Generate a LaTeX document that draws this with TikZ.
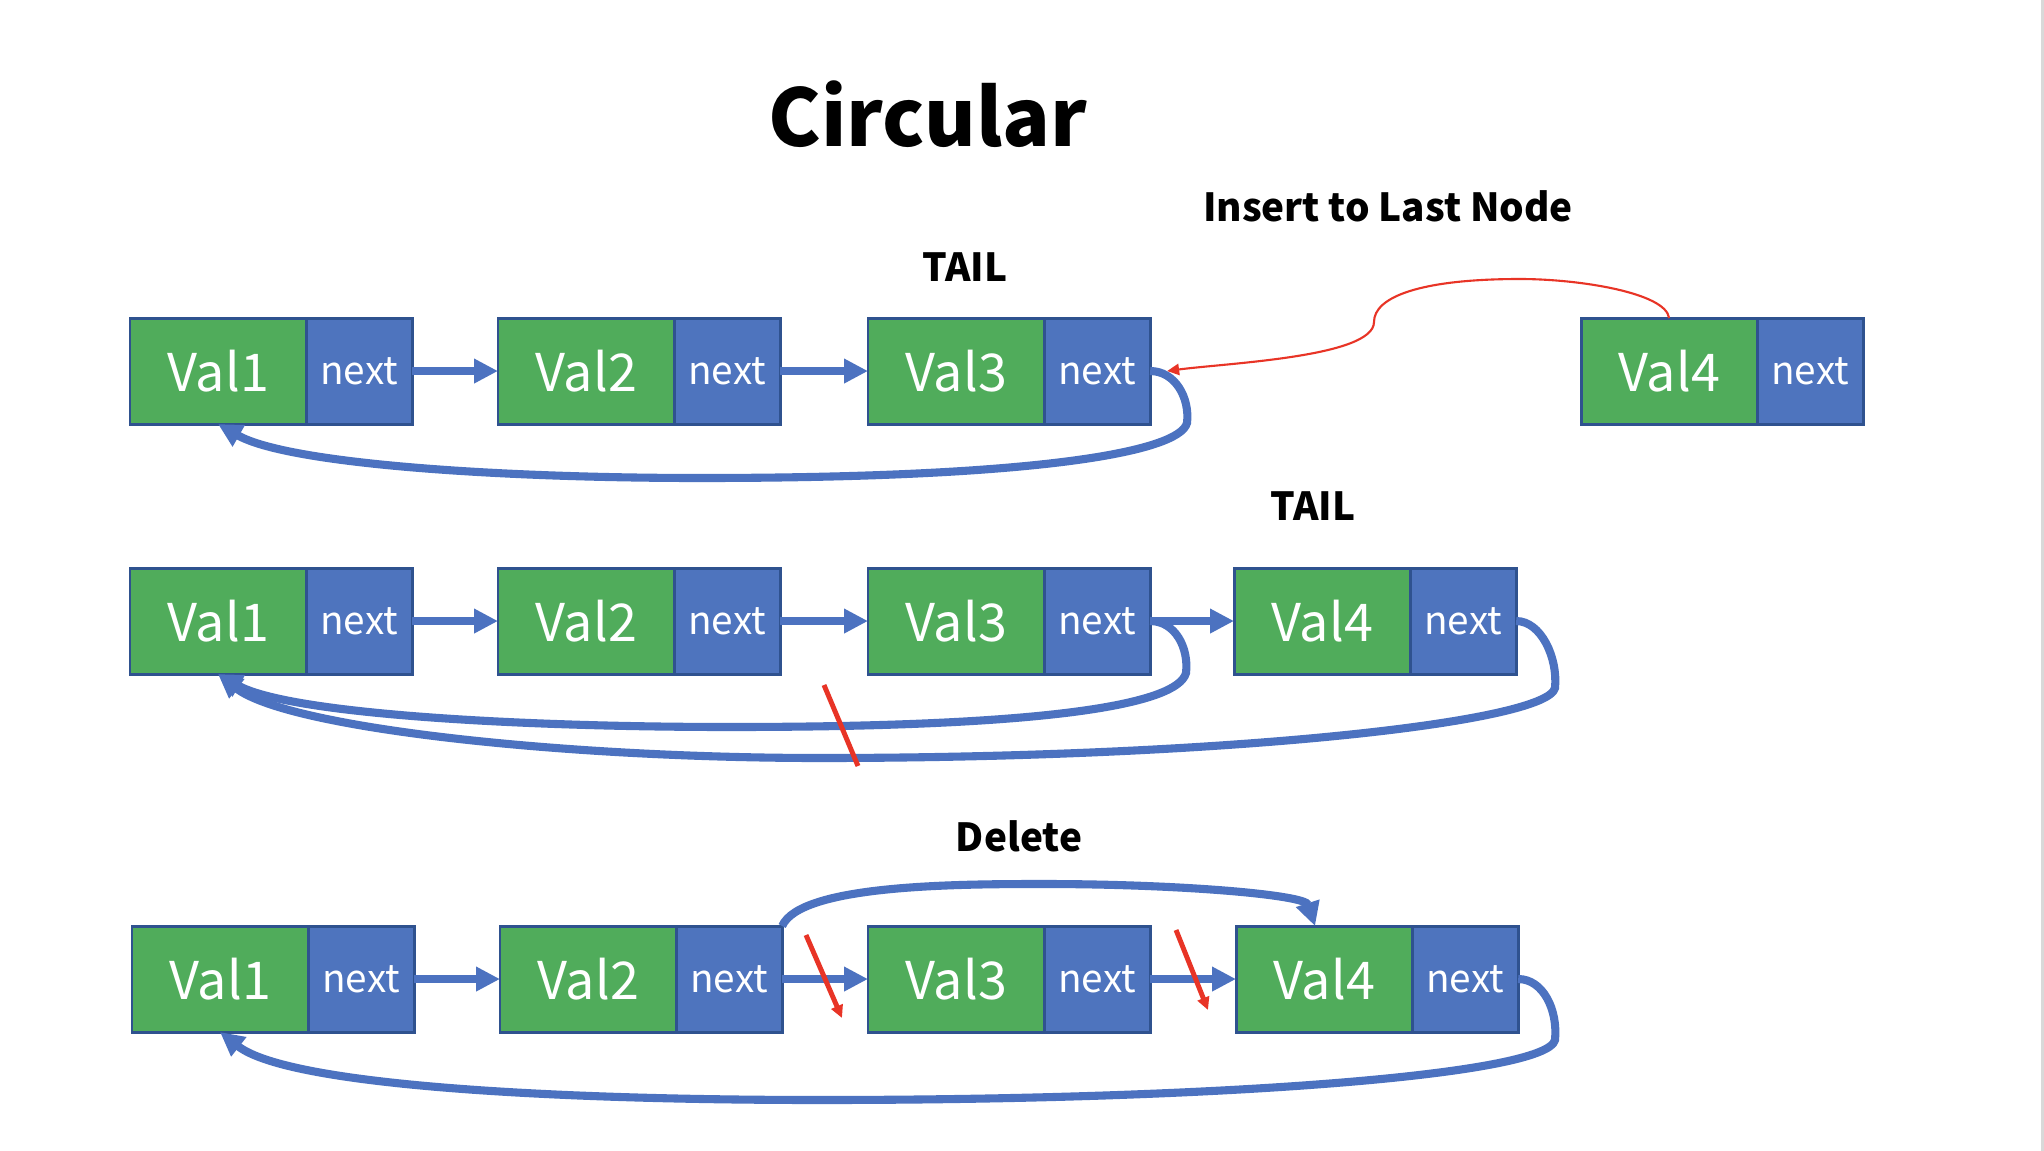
\documentclass[tikz,border=0pt]{standalone}
\usepackage{fontspec}
\setmainfont{Noto Sans CJK KR}
\usetikzlibrary{arrows.meta,positioning,calc}
\definecolor{valgreen}{RGB}{80,172,91}
\definecolor{nxtblue}{RGB}{78,116,190}
\definecolor{cellbd}{RGB}{47,82,143}
\definecolor{arrblue}{RGB}{76,114,192}
\definecolor{cutred}{RGB}{232,52,38}

\begin{document}
\begin{tikzpicture}[
  x=0.01cm, y=-0.01cm,
  cell/.style={draw=cellbd, line width=0.85pt, text=white, inner sep=0pt, outer sep=0pt,
               minimum height=1.06cm},
  val/.style={cell, fill=valgreen, minimum width=1.76cm, anchor=north west,
              font=\fontsize{14.8}{18}\selectfont},
  nxt/.style={cell, fill=nxtblue, minimum width=1.06cm, font=\fontsize{11}{14}\selectfont},
  link/.style={-{Triangle[length=6.8pt,width=6.6pt]}, line width=2.3pt, draw=arrblue},
  ins/.style={-{Triangle[length=3.4pt,width=3.2pt]}, line width=0.6pt, draw=cutred},
  cut/.style={line width=1.4pt, draw=cutred},
  cutarr/.style={cut, -{Triangle[length=3.6pt,width=3.4pt]}},
  ttl/.style={font=\fontsize{11}{13}\selectfont\bfseries},
]
\useasboundingbox (0,0) rectangle (2044,1151);
\fill[white] (0,0) rectangle (2044,1151);
\fill[black!15] (2041,0) rectangle (2044,1151);

\node[font=\fontsize{22.5}{27}\selectfont\bfseries] (title) at (928,114) {Circular};

% ---------- row 1: insert to last node ----------
\node[ttl] (lins)  at (1388,206) {Insert to Last Node};
\node[ttl] (tail1) at (965,267)  {TAIL};
\node[val] (a1) at (130,318)  {Val1};  \node[nxt, right=0pt of a1] (a1n) {next};
\node[val] (a2) at (498,318)  {Val2};  \node[nxt, right=0pt of a2] (a2n) {next};
\node[val] (a3) at (868,318)  {Val3};  \node[nxt, right=0pt of a3] (a3n) {next};
\node[val] (a4) at (1581,318) {Val4};  \node[nxt, right=0pt of a4] (a4n) {next};
\draw[link] (a1n) -- (a2);
\draw[link] (a2n) -- (a3);
\draw[link] (a3n.east) .. controls +(25,0) and +(3,-25) .. (1187,423)
            .. controls +(-8,30) and +(330,0) .. (700,478)
            .. controls +(-200,0) and +(70,40) .. (a1.south);
\draw[ins] (a4.north) .. controls +(-3,-25) and +(60,0) .. (1520,279)
           .. controls +(-100,0) and +(0,-25) .. (1374,322)
           .. controls +(0,35) and +(60,-8) .. ([xshift=0.17cm]a3n.east);

% ---------- row 2: after insert ----------
\node[ttl] (tail2) at (1313,506) {TAIL};
\node[val] (b1) at (130,568)  {Val1};  \node[nxt, right=0pt of b1] (b1n) {next};
\node[val] (b2) at (498,568)  {Val2};  \node[nxt, right=0pt of b2] (b2n) {next};
\node[val] (b3) at (868,568)  {Val3};  \node[nxt, right=0pt of b3] (b3n) {next};
\node[val] (b4) at (1234,568) {Val4};  \node[nxt, right=0pt of b4] (b4n) {next};
\draw[link] (b1n) -- (b2);
\draw[link] (b2n) -- (b3);
\draw[link] (b3n) -- (b4);
\draw[link] (b3n.east) .. controls +(25,0) and +(3,-25) .. (1186,673)
            .. controls +(-8,30) and +(330,0) .. (730,727)
            .. controls +(-210,0) and +(70,40) .. (b1.south);
\draw[link] (b4n.east) .. controls +(25,0) and +(3,-30) .. (1555,688)
            .. controls +(-8,35) and +(400,0) .. (820,758)
            .. controls +(-250,0) and +(70,55) .. (b1.south);
\draw[cut] (824,685) -- (858,766);

% ---------- row 3: delete ----------
\node[ttl] (ldel) at (1019,836) {Delete};
\node[val] (c1) at (132,926)  {Val1};  \node[nxt, right=0pt of c1] (c1n) {next};
\node[val] (c2) at (500,926)  {Val2};  \node[nxt, right=0pt of c2] (c2n) {next};
\node[val] (c3) at (868,926)  {Val3};  \node[nxt, right=0pt of c3] (c3n) {next};
\node[val] (c4) at (1236,926) {Val4};  \node[nxt, right=0pt of c4] (c4n) {next};
\draw[link] (c1n) -- (c2);
\draw[link] (c2n) -- (c3);
\draw[link] (c3n) -- (c4);
\draw[link] (c2n.north east) .. controls +(18,-41) and +(-90,0) .. (1043,884)
            .. controls +(140,0) and +(-10,-31) .. ([xshift=-0.09cm]c4.north);
\draw[link] (c4n.east) .. controls +(25,0) and +(3,-30) .. (1555,1040)
            .. controls +(-8,35) and +(400,0) .. (820,1100)
            .. controls +(-250,0) and +(70,55) .. (c1.south);
\draw[cutarr] (806,935)  -- (842,1018);
\draw[cutarr] (1176,930) -- (1208,1010);
\end{tikzpicture}
\end{document}
